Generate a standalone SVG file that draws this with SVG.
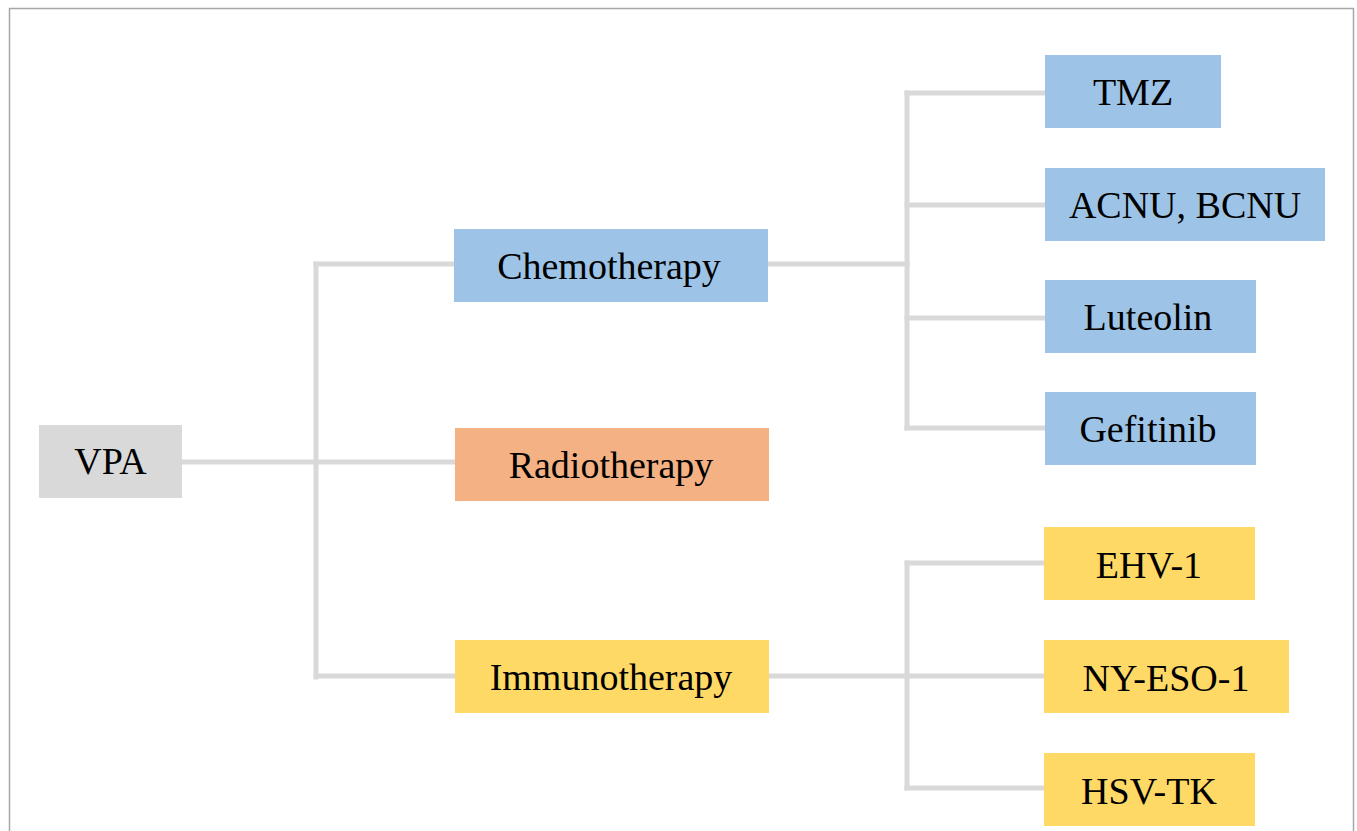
<svg xmlns="http://www.w3.org/2000/svg" width="1357" height="831" viewBox="0 0 1357 831">
<style>
.t{font-family:"Liberation Serif","Times New Roman",serif;font-size:38px;fill:#000;text-anchor:middle}
.c{stroke:#d9d9d9;stroke-width:5;fill:none;stroke-linecap:square}
.g{fill:#d9d9d9}.b{fill:#9dc3e6}.o{fill:#f4b183}.y{fill:#ffd966}
</style>
<rect x="0" y="0" width="1357" height="831" fill="#fff"/>
<path d="M9.5 840 V8.5 H1353.5 V840" fill="none" stroke="#a6a6a6" stroke-width="1.5"/>
<g id="connectors">
<path class="c" d="M182 462 H455"/>
<path class="c" d="M316 264 V677"/>
<path class="c" d="M316 264 H454"/>
<path class="c" d="M316 676 H455"/>
<path class="c" d="M768 264 H907"/>
<path class="c" d="M907 93 V428"/>
<path class="c" d="M907 93 H1045"/>
<path class="c" d="M907 205 H1045"/>
<path class="c" d="M907 318 H1045"/>
<path class="c" d="M907 428 H1045"/>
<path class="c" d="M769 676 H907"/>
<path class="c" d="M907 563 V788"/>
<path class="c" d="M907 563 H1044"/>
<path class="c" d="M907 676 H1044"/>
<path class="c" d="M907 788 H1044"/>
</g>
<g id="vpa"><rect class="g" x="39" y="425" width="143" height="73"/><text class="t" x="110.5" y="474">VPA</text></g>
<g id="chemo"><rect class="b" x="454" y="229" width="314" height="73"/><text class="t" x="609" y="279">Chemotherapy</text></g>
<g id="radio"><rect class="o" x="455" y="428" width="314" height="73"/><text class="t" x="611" y="478">Radiotherapy</text></g>
<g id="immuno"><rect class="y" x="455" y="640" width="314" height="73"/><text class="t" x="611" y="690">Immunotherapy</text></g>
<g id="tmz"><rect class="b" x="1045" y="55" width="176" height="73"/><text class="t" x="1133" y="105">TMZ</text></g>
<g id="acnu"><rect class="b" x="1045" y="168" width="280" height="73"/><text class="t" x="1185" y="218">ACNU, BCNU</text></g>
<g id="luteolin"><rect class="b" x="1045" y="280" width="211" height="73"/><text class="t" x="1148" y="330">Luteolin</text></g>
<g id="gefitinib"><rect class="b" x="1045" y="392" width="211" height="73"/><text class="t" x="1148" y="442">Gefitinib</text></g>
<g id="ehv"><rect class="y" x="1044" y="527" width="211" height="73"/><text class="t" x="1149" y="578">EHV-1</text></g>
<g id="nyeso"><rect class="y" x="1044" y="640" width="245" height="73"/><text class="t" x="1166" y="691">NY-ESO-1</text></g>
<g id="hsvtk"><rect class="y" x="1044" y="753" width="211" height="73"/><text class="t" x="1149" y="804">HSV-TK</text></g>
</svg>
